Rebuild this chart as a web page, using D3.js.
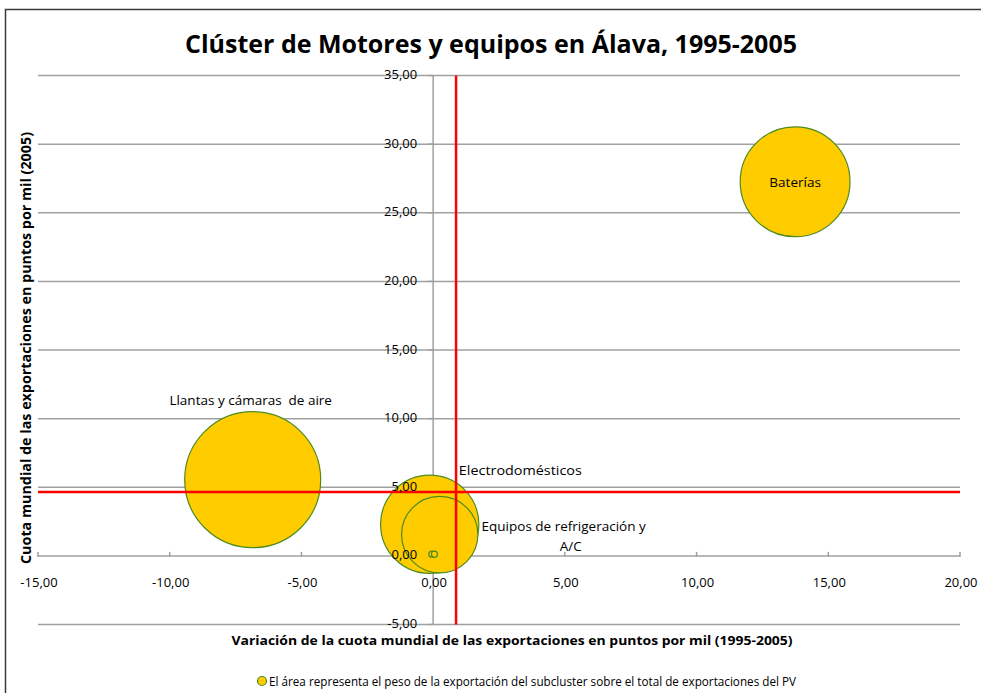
<!DOCTYPE html>
<html><head><meta charset="utf-8">
<script src="https://cdn.jsdelivr.net/npm/d3@7"></script>
<style>body{margin:0;background:#fff}svg{display:block}text{font-family:"Open Sans","Noto Sans",sans-serif}</style>
</head><body><svg id="c" width="981" height="693"></svg>
<script>
const names = ["Baterías","Llantas y cámaras  de aire","Electrodomésticos","Equipos de refrigeración y A/C","Subcluster 5","Subcluster 6"];
const labels = [["Baterías"],["Llantas y cámaras  de aire"],["Electrodomésticos"],["Equipos de refrigeración y","A/C"],[],[]];
const xValues = [13.74,-6.85,-0.13,0.25,-0.05,0.05];
const yValues = [27.26,5.55,2.30,1.55,0.12,0.12];
const sizes = [3.0,4.6,2.4,1.45,0.009,0.009];
const xTicks = [-15,-10,-5,0,5,10,15,20];
const yTicks = [-5,0,5,10,15,20,25,30,35];
const xRef = 0.87, yRef = 4.66;
const title = "Clúster de Motores y equipos en Álava, 1995-2005";
const xTitle = "Variación de la cuota mundial de las exportaciones en puntos por mil (1995-2005)";
const yTitle = "Cuota mundial de las exportaciones en puntos por mil (2005)";
const legendText = "El área representa el peso de la exportación del subcluster sobre el total de exportaciones del PV";

const svg = d3.select("#c");
const x = d3.scaleLinear().domain([-15,20]).range([38,960]);
const y = d3.scaleLinear().domain([-5,35]).range([624.5,75.5]);
const r = d3.scaleSqrt().domain([0,4.6]).range([0,68]);
const fmt = v => d3.format(".2f")(v).replace(".",",").replace("−","-");
const fill = "#FFCC00", stroke = "#4E8A1E";

// border
svg.append("path").attr("d","M5.5,693V9.5H981").attr("fill","none").attr("stroke","#3a3a3a").attr("stroke-width",1.5);

// title
svg.append("text").attr("x",491).attr("y",53).attr("text-anchor","middle")
  .attr("font-size",25).attr("font-weight","bold").attr("fill","#000")
  .attr("textLength",612).attr("lengthAdjust","spacingAndGlyphs").text(title);

// gridlines
svg.append("g").selectAll("line").data(yTicks).join("line")
  .attr("x1",x(-15)).attr("x2",x(20)).attr("y1",d=>y(d)).attr("y2",d=>y(d))
  .attr("stroke","#a0a0a0").attr("stroke-width",1.5);
// vertical axis line at x=0
svg.append("line").attr("x1",x(0)).attr("x2",x(0)).attr("y1",y(35)).attr("y2",y(-5))
  .attr("stroke","#a0a0a0").attr("stroke-width",1.5);
// y ticks
svg.append("g").selectAll("line").data(yTicks).join("line")
  .attr("x1",x(0)-5).attr("x2",x(0)).attr("y1",d=>y(d)).attr("y2",d=>y(d))
  .attr("stroke","#a0a0a0").attr("stroke-width",1.5);
// x ticks
svg.append("g").selectAll("line").data(xTicks).join("line")
  .attr("x1",d=>x(d)).attr("x2",d=>x(d)).attr("y1",y(0)-4).attr("y2",y(0)+1)
  .attr("stroke","#a0a0a0").attr("stroke-width",1.5);

// bubbles
const data = names.map((n,i)=>({n, l:labels[i], x:xValues[i], y:yValues[i], s:sizes[i]}));
svg.append("g").selectAll("circle").data(data.slice().sort((a,b)=>b.s-a.s)).join("circle")
  .attr("cx",d=>x(d.x)).attr("cy",d=>y(d.y)).attr("r",d=>r(d.s))
  .attr("fill",fill).attr("stroke",stroke).attr("stroke-width",1.2);

// red reference lines
svg.append("line").attr("x1",x(xRef)).attr("x2",x(xRef)).attr("y1",y(35)).attr("y2",y(-5))
  .attr("stroke","#FF0000").attr("stroke-width",2.5);
svg.append("line").attr("x1",x(-15)).attr("x2",x(20)).attr("y1",y(yRef)).attr("y2",y(yRef))
  .attr("stroke","#FF0000").attr("stroke-width",2.5);

// tick labels
svg.append("g").selectAll("text").data(yTicks).join("text")
  .attr("x",x(0)-16).attr("y",d=>y(d)+3.5).attr("text-anchor","end")
  .attr("font-size",13).attr("fill","#000").text(fmt);
svg.append("g").selectAll("text").data(xTicks).join("text")
  .attr("x",d=>x(d)+1).attr("y",y(0)+31).attr("text-anchor","middle")
  .attr("font-size",13).attr("fill","#000").text(fmt);

// bubble labels
data.forEach((d,i)=>{
  const g = svg.append("text").attr("font-size",13.5).attr("fill","#000")
    .style("white-space","pre");
  const bx = x(d.x), by = y(d.y);
  if(i===0){ g.attr("x",bx).attr("y",by+5).attr("text-anchor","middle").text(d.l[0]); }
  else if(i===1){ g.attr("x",bx-2).attr("y",by-75).attr("text-anchor","middle").text(d.l[0]); }
  else if(i===2){ g.attr("x",bx+r(d.s)-20).attr("y",by-49).attr("text-anchor","start")
      .attr("textLength",123).attr("lengthAdjust","spacingAndGlyphs").text(d.l[0]); }
  else if(i===3){
    g.append("tspan").attr("x",bx+206).attr("y",by-4).attr("text-anchor","end").text(d.l[0]);
    g.append("tspan").attr("x",bx+131).attr("y",by+16).attr("text-anchor","middle").text(d.l[1]);
  }
});

// axis titles
svg.append("text").attr("x",512).attr("y",644.5).attr("text-anchor","middle")
  .attr("font-size",13).attr("font-weight","bold").attr("fill","#000")
  .attr("textLength",561).attr("lengthAdjust","spacingAndGlyphs").text(xTitle);
svg.append("text").attr("transform","translate(31,348) rotate(-90)").attr("text-anchor","middle")
  .attr("font-size",13.5).attr("font-weight","bold").attr("fill","#000")
  .attr("textLength",432).attr("lengthAdjust","spacingAndGlyphs").text(yTitle);

// legend
svg.append("circle").attr("cx",262).attr("cy",681).attr("r",4.5).attr("fill",fill).attr("stroke",stroke).attr("stroke-width",1.2);
svg.append("text").attr("x",269).attr("y",685.5).attr("font-size",12.5).attr("fill","#000")
  .attr("textLength",527).attr("lengthAdjust","spacingAndGlyphs").text(legendText);
</script></body></html>
